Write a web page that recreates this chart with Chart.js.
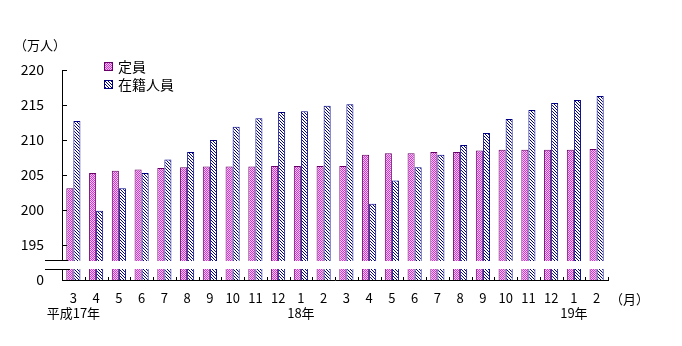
<!DOCTYPE html>
<html>
<head>
<meta charset="utf-8">
<script src="https://cdn.jsdelivr.net/npm/chart.js@4"></script>
<style>
html,body{margin:0;padding:0;background:#fff;}
#c{display:block;}
</style>
</head>
<body>
<canvas id="c" width="682" height="346"></canvas>
<script>
// ---- data ----
const months = ['3','4','5','6','7','8','9','10','11','12','1','2','3','4','5','6','7','8','9','10','11','12','1','2'];
const yearLabels = ['平成17年','','','','','','','','','','18年','','','','','','','','','','','','19年',''];
const teiin = [203.1,205.3,205.6,205.8,206.0,206.1,206.2,206.2,206.2,206.3,206.3,206.3,206.3,207.9,208.1,208.1,208.3,208.3,208.5,208.6,208.6,208.6,208.6,208.7];
const zaiseki = [212.7,199.9,203.1,205.3,207.2,208.3,210.0,211.9,213.1,214.0,214.1,214.9,215.1,200.9,204.2,206.1,207.9,209.3,211.0,213.0,214.3,215.3,215.7,216.3];
const seriesNames = ['定員','在籍人員'];
const yTickValues = [190,195,200,205,210,215,220];
const yTickText = ['0','195','200','205','210','215','220'];
const unitY = '（万人）';
const unitX = '（月）';

const FONT = '"Noto Sans CJK JP", "Noto Sans", sans-serif';

function makeChecker(){
  const c = document.createElement('canvas'); c.width = 2; c.height = 2;
  const g = c.getContext('2d');
  g.fillStyle = '#f7c6f7'; g.fillRect(0,0,2,2);
  g.fillStyle = '#d038d0'; g.fillRect(0,0,1,1); g.fillRect(1,1,1,1);
  return g.createPattern(c,'repeat');
}
function makeStripe(){
  const c = document.createElement('canvas'); c.width = 3; c.height = 3;
  const g = c.getContext('2d');
  g.fillStyle = '#ffffff'; g.fillRect(0,0,3,3);
  g.fillStyle = '#000080';
  for(let i=0;i<3;i++){ g.fillRect(i,i,1,1); }
  return g.createPattern(c,'repeat');
}
const pChecker = makeChecker();
const pStripe = makeStripe();

const labels = months.map((m,i)=> yearLabels[i] ? [m, yearLabels[i]] : [m]);

const extras = {
  id:'extras',
  afterDraw(chart){
    const ctx = chart.ctx;
    const xs = chart.scales.x, ys = chart.scales.y;
    const ca = chart.chartArea;
    ctx.save();
    // inward y ticks
    ctx.strokeStyle = '#000'; ctx.lineWidth = 1;
    yTickValues.forEach(v=>{
      if (v === 190) return;
      const y = Math.round(ys.getPixelForValue(v)) + 0.5;
      ctx.beginPath(); ctx.moveTo(ca.left, y); ctx.lineTo(ca.left + 5, y); ctx.stroke();
    });
    // inward x ticks at category boundaries
    const n = months.length;
    const w = (ca.right - ca.left) / n;
    for (let i=1;i<=n;i++){
      const x = Math.round(ca.left + i*w) + 0.5;
      ctx.beginPath(); ctx.moveTo(x, ca.bottom); ctx.lineTo(x, ca.bottom - 3); ctx.stroke();
    }
    // axis break
    const yTop = Math.round(ys.getPixelForValue(192.9));
    const yBot = Math.round(ys.getPixelForValue(191.6));
    ctx.fillStyle = '#fff';
    ctx.fillRect(ca.left - 1, yTop + 1, ca.right - ca.left + 3, yBot - yTop - 1);
    ctx.strokeStyle = '#000';
    ctx.beginPath(); ctx.moveTo(45, yTop + 0.5); ctx.lineTo(68, yTop + 0.5); ctx.stroke();
    ctx.beginPath(); ctx.moveTo(45, yBot + 0.5); ctx.lineTo(70, yBot + 0.5); ctx.stroke();
    // legend
    ctx.font = '14px ' + FONT;
    ctx.textBaseline = 'middle'; ctx.textAlign = 'left';
    const items = [
      {fill:pChecker, stroke:'#660066', y:66, text:chart.data.datasets[0].label},
      {fill:pStripe, stroke:'#000080', y:84, text:chart.data.datasets[1].label}
    ];
    items.forEach(it=>{
      ctx.fillStyle = it.fill; ctx.fillRect(104, it.y-4, 9, 9);
      ctx.strokeStyle = it.stroke; ctx.strokeRect(104.5, it.y-3.5, 8, 8);
      ctx.fillStyle = '#000'; ctx.fillText(it.text, 118, it.y + 1);
    });
    // unit labels
    ctx.font = '13px ' + FONT;
    ctx.fillText(unitY, 14, 45);
    ctx.fillText(unitX, 610, 299);
    ctx.restore();
  }
};

new Chart(document.getElementById('c'), {
  type:'bar',
  data:{
    labels: labels,
    datasets:[
      {label:seriesNames[0], data:teiin, backgroundColor:pChecker, borderColor:'#660066', borderWidth:1, base:190},
      {label:seriesNames[1], data:zaiseki, backgroundColor:pStripe, borderColor:'#000080', borderWidth:1, base:190}
    ]
  },
  options:{
    responsive:false,
    animation:false,
    events:[],
    layout:{padding:{left:0, top:70, right:74, bottom:26}},
    plugins:{legend:{display:false}, tooltip:{enabled:false}},
    datasets:{bar:{categoryPercentage:0.62, barPercentage:1.0}},
    scales:{
      x:{
        grid:{display:false, drawTicks:false},
        border:{display:true, color:'#000', width:1},
        ticks:{color:'#000', font:{size:13, family:FONT}, padding:10, maxRotation:0, autoSkip:false},
        afterFit(s){ s.height = 40; }
      },
      y:{
        min:190, max:220,
        grid:{display:false, drawTicks:false},
        border:{display:true, color:'#000', width:1},
        afterBuildTicks(s){ s.ticks = yTickValues.map(v=>({value:v})); },
        ticks:{color:'#000', font:{size:14, family:FONT}, padding:18,
          callback:(v)=>{ const i = yTickValues.indexOf(v); return i>=0 ? yTickText[i] : ''; }},
        afterFit(s){ s.width = 62; }
      }
    }
  },
  plugins:[extras]
});
</script>
</body>
</html>
